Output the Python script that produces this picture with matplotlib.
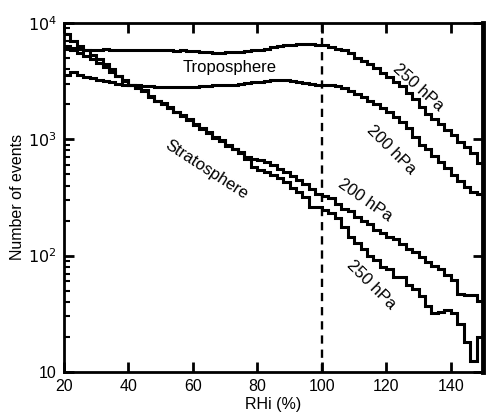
import numpy as np
import matplotlib
matplotlib.use("Agg")
import matplotlib.pyplot as plt
from matplotlib.ticker import FixedLocator, FixedFormatter, LogLocator, NullFormatter

# RHi bin edges (2 % bins)
edges = np.arange(20, 152, 2)

# troposphere, 250 hPa
trop250 = [6000, 6100, 6000, 5900, 5900, 5900, 6000, 5900, 5900, 5800,
           5900, 5900, 5800, 5800, 5900, 5800, 5800, 5700, 5800, 5700,
           5700, 5600, 5600, 5500, 5500, 5600, 5600, 5600, 5700, 5800,
           5900, 6000, 6200, 6300, 6400, 6500, 6600, 6600, 6600, 6500,
           6400, 6200, 6000, 5800, 5500, 5000, 4700, 4400, 4100, 3700,
           3400, 3100, 2850, 2500, 2200, 1900, 1650, 1500, 1350, 1200,
           1080, 950, 850, 760, 620]
# troposphere, 200 hPa
trop200 = [3600, 3800, 3600, 3450, 3350, 3250, 3150, 3100, 3000, 2950,
           2900, 2900, 2850, 2850, 2800, 2800, 2800, 2800, 2800, 2800,
           2800, 2850, 2850, 2900, 2900, 2950, 2950, 3000, 3050, 3100,
           3100, 3150, 3200, 3200, 3200, 3150, 3100, 3050, 3000, 2950,
           2900, 2900, 2850, 2750, 2600, 2450, 2300, 2150, 2000, 1850,
           1700, 1560, 1420, 1250, 1050, 900, 820, 720, 640, 570,
           490, 440, 390, 350, 340]
# stratosphere, 250 hPa
strat250 = [8000, 7000, 6300, 5800, 5300, 4900, 4400, 4000, 3500, 3150,
            2950, 2800, 2650, 2300, 2150, 2000, 1850, 1700, 1580, 1450,
            1330, 1250, 1120, 1050, 960, 880, 820, 760, 680, 580,
            540, 520, 490, 460, 430, 380, 350, 320, 260, 262,
            245, 232, 210, 175, 145, 128, 115, 100, 92, 80,
            76, 66, 65, 56, 52, 45, 37, 32, 33, 34,
            32, 26, 18, 12.5, 20]
# stratosphere, 200 hPa
strat200 = [6300, 5900, 5500, 5200, 4900, 4500, 4200, 3800, 3500, 3200,
            2950, 2750, 2600, 2350, 2150, 2050, 1900, 1720, 1600, 1480,
            1350, 1230, 1150, 1030, 980, 900, 830, 780, 700, 680,
            660, 640, 600, 560, 520, 480, 450, 410, 370, 340,
            325, 313, 280, 250, 240, 215, 200, 185, 165, 155,
            145, 140, 125, 115, 107, 97, 88, 82, 76, 68,
            62, 47, 46, 46, 41]

plt.rcParams["font.family"] = ["Liberation Sans", "DejaVu Sans"]
plt.rcParams["font.size"] = 11.5

fig = plt.figure(figsize=(4.99, 4.16), dpi=100)
ax = fig.add_axes([0.128, 0.106, 0.840, 0.839])

for vals in (trop250, trop200, strat250, strat200):
    ax.stairs(vals, edges, color="black", lw=2.2, baseline=None)

ax.axvline(100, color="black", lw=1.7, ls=(0, (3.5, 2.5)))

ax.set_yscale("log")
ax.set_xlim(20, 150)
ax.set_ylim(10, 1e4)

ax.xaxis.set_major_locator(FixedLocator([20, 40, 60, 80, 100, 120, 140]))
ax.yaxis.set_major_locator(FixedLocator([10, 100, 1000, 10000]))
ax.yaxis.set_major_formatter(FixedFormatter(["10", "$10^2$", "$10^3$", "$10^4$"]))
ax.yaxis.set_minor_locator(LogLocator(base=10, subs=np.arange(2, 10)))
ax.yaxis.set_minor_formatter(NullFormatter())

ax.tick_params(axis="both", which="major", direction="in", length=7, width=2,
               top=True, right=True, labelsize=11.5, pad=5)
ax.tick_params(axis="y", which="minor", direction="in", length=4, width=1.5,
               right=False)
for side in ("left", "bottom", "top"):
    ax.spines[side].set_linewidth(2)
ax.spines["right"].set_linewidth(3.5)

ax.set_xlabel("RHi (%)", fontsize=11.5, labelpad=2)
ax.set_ylabel("Number of events", fontsize=11.5, labelpad=2)

ax.text(71.5, 4100, "Troposphere", ha="center", va="center", fontsize=12)
ax.text(64.3, 545, "Stratosphere", ha="center", va="center", fontsize=12, rotation=-33)
ax.text(130, 2760, "250 hPa", ha="center", va="center", fontsize=12, rotation=-42)
ax.text(121.4, 810, "200 hPa", ha="center", va="center", fontsize=12, rotation=-45)
ax.text(113.3, 300, "200 hPa", ha="center", va="center", fontsize=12, rotation=-35)
ax.text(115.2, 56, "250 hPa", ha="center", va="center", fontsize=12, rotation=-45)

fig.savefig("out.png", dpi=100)
